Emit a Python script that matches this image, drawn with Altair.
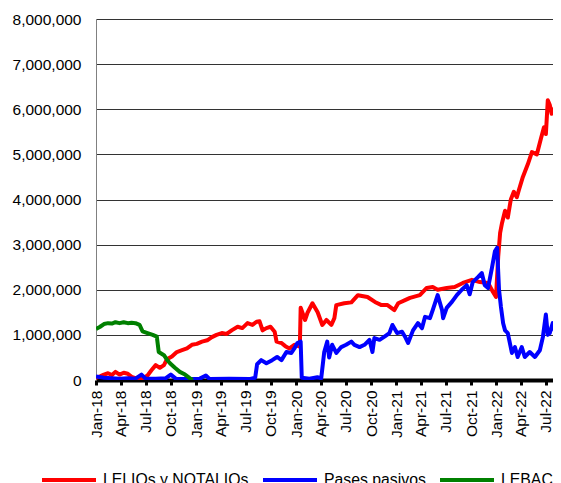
import altair as alt
import pandas as pd

# ---- data (values in millions) ----
leliq_dates = ["2018-01-01","2018-01-16","2018-01-30","2018-02-14","2018-02-28","2018-03-13","2018-03-28","2018-04-12","2018-04-27","2018-05-11","2018-05-25","2018-06-09","2018-06-24","2018-07-08","2018-07-23","2018-08-07","2018-08-22","2018-09-06","2018-09-17","2018-10-05","2018-10-23","2018-11-11","2018-11-29","2018-12-17",
               "2019-01-04","2019-01-23","2019-02-11","2019-02-28","2019-03-17","2019-04-05","2019-04-23","2019-05-11","2019-06-02","2019-06-19","2019-07-08","2019-07-26","2019-08-10","2019-08-21","2019-09-01","2019-09-15","2019-09-30","2019-10-15","2019-10-22","2019-11-09","2019-11-23","2019-12-08","2019-12-26",
               "2020-01-15","2020-01-18","2020-02-03","2020-02-12","2020-03-01","2020-03-20","2020-04-06","2020-04-21","2020-05-09","2020-05-20","2020-05-27","2020-06-25","2020-07-21","2020-08-14","2020-09-18","2020-10-15","2020-11-08","2020-11-30","2020-12-25",
               "2021-01-08","2021-02-02","2021-02-20","2021-03-28","2021-04-22","2021-05-14","2021-06-01","2021-07-04","2021-08-02","2021-09-01","2021-10-04","2021-11-02","2021-12-02","2021-12-20","2021-12-31",
               "2022-01-08","2022-01-15","2022-01-22","2022-02-02","2022-02-12","2022-02-23","2022-03-06","2022-03-17","2022-03-24","2022-04-08","2022-04-26","2022-05-11","2022-05-29","2022-06-13","2022-06-24","2022-07-01","2022-07-08","2022-07-15","2022-07-22","2022-08-02","2022-08-13","2022-08-24"]
leliq_vals = [0.05,0.08,0.12,0.15,0.11,0.18,0.12,0.16,0.14,0.07,0.04,0.05,0.04,0.10,0.22,0.33,0.27,0.33,0.46,0.52,0.62,0.66,0.70,0.78,
              0.80,0.85,0.88,0.95,1.00,1.04,1.02,1.10,1.18,1.15,1.26,1.22,1.29,1.30,1.10,1.15,1.18,1.07,0.85,0.82,0.75,0.70,0.78,
              0.74,1.60,1.33,1.49,1.70,1.50,1.22,1.33,1.22,1.37,1.66,1.70,1.72,1.88,1.84,1.73,1.66,1.66,1.55,
              1.70,1.77,1.82,1.88,2.04,2.06,2.00,2.04,2.06,2.15,2.22,2.17,2.15,1.95,1.84,
              2.73,3.26,3.48,3.75,3.60,4.00,4.17,4.05,4.20,4.50,4.78,5.05,5.00,5.35,5.60,5.45,6.20,6.10,5.90,6.03,6.00,6.10]

pases_dates = ["2018-01-01","2018-01-30","2018-02-28","2018-03-28","2018-04-27","2018-05-25","2018-06-16","2018-07-01","2018-08-07","2018-09-13","2018-10-01","2018-10-19","2018-11-25",
               "2019-01-15","2019-02-06","2019-02-20","2019-05-02","2019-07-15","2019-08-05","2019-08-12","2019-08-27","2019-09-15","2019-10-06","2019-10-24","2019-11-09","2019-11-27","2019-12-15","2019-12-26",
               "2020-01-06","2020-01-18","2020-01-22","2020-02-19","2020-03-19","2020-04-02","2020-04-13","2020-04-24","2020-05-01","2020-05-12","2020-05-27","2020-06-14","2020-07-02","2020-07-21","2020-08-01","2020-08-20","2020-09-07","2020-09-25","2020-10-06","2020-10-13","2020-11-01","2020-11-19","2020-12-07","2020-12-18",
               "2021-01-04","2021-01-22","2021-02-02","2021-02-13","2021-03-03","2021-03-21","2021-04-05","2021-04-16","2021-05-04","2021-05-14","2021-06-01","2021-06-17","2021-06-21","2021-07-04","2021-07-23","2021-08-10","2021-08-28","2021-09-15","2021-09-26","2021-10-07","2021-10-26","2021-11-09","2021-11-20","2021-12-02","2021-12-16","2021-12-27",
               "2022-01-04","2022-01-11","2022-01-18","2022-01-26","2022-02-02","2022-02-12","2022-02-27","2022-03-10","2022-03-20","2022-04-04","2022-04-15","2022-05-03","2022-05-22","2022-06-09","2022-06-20","2022-07-01","2022-07-08","2022-07-15","2022-07-26","2022-08-09","2022-08-24"]
pases_vals = [0.08,0.05,0.04,0.03,0.04,0.03,0.12,0.03,0.03,0.04,0.12,0.03,0.02,
              0.03,0.10,0.02,0.03,0.02,0.05,0.35,0.44,0.37,0.44,0.51,0.44,0.62,0.60,0.70,
              0.82,0.85,0.05,0.03,0.06,0.04,0.62,0.85,0.50,0.78,0.60,0.73,0.78,0.85,0.78,0.73,0.78,0.89,0.62,0.93,0.89,0.96,1.04,1.22,
              1.04,1.07,0.96,0.82,1.10,1.26,1.15,1.40,1.37,1.55,1.88,1.55,1.37,1.60,1.73,1.88,2.00,2.10,1.90,2.17,2.28,2.37,2.10,2.04,2.48,2.85,
              2.93,2.00,1.62,1.26,1.10,1.04,0.60,0.73,0.51,0.73,0.51,0.62,0.51,0.66,0.95,1.45,1.00,1.04,1.26,0.95,1.22]

lebac_dates = ["2018-01-01","2018-01-16","2018-01-30","2018-02-14","2018-02-28","2018-03-13","2018-03-28","2018-04-12","2018-04-27","2018-05-11","2018-05-25","2018-06-09","2018-06-20","2018-07-08","2018-07-27","2018-08-11","2018-08-18","2018-09-06","2018-09-17","2018-09-28","2018-10-16","2018-11-03","2018-11-22","2018-12-09","2018-12-20"]
lebac_vals = [1.13,1.18,1.24,1.26,1.25,1.28,1.26,1.28,1.26,1.27,1.26,1.22,1.08,1.04,1.00,0.96,0.62,0.55,0.45,0.37,0.27,0.18,0.12,0.04,0.00]

series_names = ["LELIQs y NOTALIQs", "Pases pasivos", "LEBACs"]
series_colors = ["#ff0000", "#0000ff", "#008000"]

tick_dates = [(y, m) for y in range(2018, 2023) for m in (1, 4, 7, 10) if not (y == 2022 and m == 10)]
y_ticks = [0, 1000000, 2000000, 3000000, 4000000, 5000000, 6000000, 7000000, 8000000]

frames = []
for name, d, v in zip(series_names, [leliq_dates, pases_dates, lebac_dates], [leliq_vals, pases_vals, lebac_vals]):
    frames.append(pd.DataFrame({"serie": name, "fecha": d, "valor": [x * 1e6 for x in v]}))
df = pd.concat(frames, ignore_index=True)

FONT = "Liberation Sans"

x_enc = alt.X(
    "fecha:T",
    scale=alt.Scale(type="utc", domain=[alt.DateTime(year=2018, month=1, date=1, utc=True),
                                        alt.DateTime(year=2022, month=7, date=27, utc=True)]),
    axis=alt.Axis(
        values=[alt.DateTime(year=y, month=m, date=1, utc=True) for y, m in tick_dates],
        format="%b-%y", labelAngle=270, labelFontSize=15.5, labelFont=FONT, labelColor="black",
        tickSize=5, tickWidth=3, tickColor="black", domainColor="black", domainWidth=4,
        labelPadding=5, grid=False, title=None, labelOverlap=False,
    ),
)
y_enc = alt.Y(
    "valor:Q",
    scale=alt.Scale(domain=[0, 8000000]),
    axis=alt.Axis(
        values=y_ticks, format=",d", title=None, labelFontSize=15.5, labelFont=FONT,
        labelColor="black", labelPadding=15, tickSize=0, grid=True, gridColor="#333333",
        gridWidth=1, domainColor="#808080", domainWidth=1,
    ),
)
color_enc = alt.Color(
    "serie:N",
    scale=alt.Scale(domain=series_names, range=series_colors),
    legend=alt.Legend(
        orient="none", legendX=-56, legendY=432, direction="horizontal", title=None,
        symbolType="stroke", symbolSize=2916, symbolStrokeWidth=4, labelFontSize=15.8,
        labelFont=FONT, labelColor="black", labelOffset=5, columnPadding=6, padding=0,
    ),
)

base = alt.Chart(df).mark_line(strokeWidth=4, clip=True, strokeJoin="round").encode(
    x=x_enc, y=y_enc, color=color_enc
)
layers = [base.transform_filter(alt.datum.serie == n) for n in series_names]

chart = alt.layer(*layers).properties(
    width=457, height=361,
    autosize=alt.AutoSizeParams(type="none"),
    padding={"left": 88, "top": 11, "right": 0, "bottom": 103},
).configure_view(stroke=None).configure(background="white")

chart.save("out.html", embed_options={"renderer": "svg", "actions": False})
